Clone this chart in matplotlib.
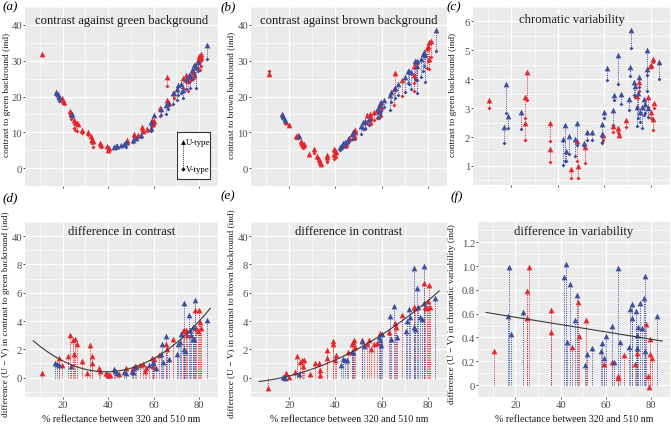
import numpy as np
import matplotlib
matplotlib.use("Agg")
import matplotlib.pyplot as plt

plt.rcParams['font.family'] = ['Liberation Serif', 'DejaVu Serif']

RED = '#e3272b'
BLUE = '#3d4e9e'
BG = '#ebebeb'

# (a) contrast against green background: U-type (triangle), V-type (point)
a_red_x = [10.8, 19.6, 20.6, 23.0, 23.8, 25.0, 25.5, 26.2, 26.8, 28.5, 31.0, 32.3, 33.0, 33.5, 36.5, 36.8,
           39.5, 40.2, 40.0, 48.5, 48.2, 51.2, 53.0, 55.0, 55.5, 57.0, 59.2, 59.5, 60.0, 63.0, 65.8, 66.0,
           67.0, 69.0, 73.2, 74.5, 75.0, 76.5, 77.5, 78.2, 79.5, 80.2, 80.8, 81.0, 80.5]
a_red_u = [32.0, 19.5, 18.6, 16.0, 15.5, 13.5, 13.0, 12.6, 12.4, 10.6, 10.0, 9.0, 8.0, 7.5, 7.0, 6.5,
           6.2, 5.5, 5.0, 7.8, 7.4, 9.5, 9.3, 11.5, 10.5, 11.0, 13.3, 12.4, 13.2, 16.8, 25.5, 19.0,
           18.2, 21.0, 25.3, 26.0, 24.6, 25.8, 27.2, 28.8, 30.2, 31.2, 31.8, 31.0, 30.5]
a_red_v = [31.5, 18.6, 17.9, 14.5, 13.8, 11.2, 10.6, 10.3, 11.9, 9.8, 9.3, 7.2, 7.0, 5.9, 6.4, 6.0,
           5.6, 5.0, 4.7, 7.2, 6.9, 8.6, 8.8, 10.5, 10.2, 10.4, 12.2, 11.8, 12.0, 14.5, 23.0, 17.5,
           17.6, 19.5, 22.5, 24.0, 21.5, 24.5, 25.0, 25.5, 28.0, 29.5, 30.2, 28.5, 27.5]
a_blue_x = [17.0, 17.8, 18.5, 24.2, 42.5, 43.5, 44.0, 45.5, 47.0, 48.0, 51.0, 52.5, 54.5, 59.0, 58.8, 60.0,
            63.5, 65.5, 66.5, 68.5, 70.5, 71.0, 72.0, 73.0, 74.5, 75.5, 76.0, 77.0, 78.0, 78.5, 79.5, 83.5]
a_blue_u = [21.2, 20.6, 20.0, 15.2, 6.0, 6.2, 6.3, 6.5, 6.8, 7.2, 7.8, 8.5, 9.2, 11.2, 12.8, 14.8,
            16.5, 17.5, 18.2, 21.0, 22.0, 23.2, 23.5, 21.8, 25.0, 26.0, 25.8, 27.5, 28.8, 28.2, 29.5, 34.5]
a_blue_v = [20.3, 19.6, 18.8, 14.4, 5.8, 5.7, 6.0, 6.2, 6.4, 6.0, 7.2, 8.0, 8.6, 10.5, 12.3, 13.0,
            14.8, 15.0, 16.5, 18.0, 19.0, 20.5, 21.0, 19.5, 22.0, 24.0, 22.5, 24.8, 26.0, 22.5, 27.0, 30.5]

# (b) contrast against brown background
b_red_x = [11.0, 18.4, 20.0, 23.0, 23.7, 24.9, 25.5, 25.9, 26.5, 28.4, 30.6, 32.1, 33.0, 33.3, 33.6, 36.5,
           36.5, 39.2, 39.8, 40.4, 39.5, 44.8, 46.0, 48.0, 48.6, 48.3, 53.0, 53.9, 55.0, 55.4, 56.9, 57.9,
           59.4, 59.8, 66.0, 65.4, 69.0, 74.1, 74.9, 74.1, 79.6, 80.3, 80.8, 81.5, 80.5]
b_red_u = [26.3, 13.0, 12.0, 9.0, 9.3, 7.5, 7.0, 6.5, 6.8, 3.8, 5.3, 3.5, 2.5, 1.8, 1.2, 3.6,
           3.2, 5.3, 5.0, 4.5, 4.0, 6.8, 8.5, 10.3, 10.6, 10.0, 13.0, 14.8, 15.2, 14.0, 15.8, 16.3,
           18.2, 17.0, 26.5, 22.2, 24.5, 28.5, 29.5, 26.0, 33.5, 34.0, 35.2, 35.5, 30.5]
b_red_v = [27.0, 12.7, 12.0, 8.3, 8.5, 6.8, 6.2, 5.5, 5.8, 3.6, 4.2, 2.8, 1.8, 1.2, 1.0, 2.0,
           1.6, 3.0, 3.8, 3.0, 2.5, 6.0, 7.5, 8.5, 8.8, 8.2, 11.0, 12.5, 13.0, 12.2, 13.5, 14.0,
           15.5, 14.5, 22.0, 17.5, 20.2, 23.8, 24.5, 21.5, 28.0, 29.8, 30.0, 31.0, 27.8]
b_blue_x = [16.8, 17.3, 18.1, 24.0, 42.0, 42.7, 43.3, 44.2, 45.4, 47.1, 47.7, 51.0, 52.0, 52.7, 54.5, 58.6,
            59.4, 59.8, 60.9, 59.0, 63.8, 64.2, 66.0, 67.2, 70.1, 71.3, 71.9, 72.7, 74.6, 75.2, 75.6, 77.1,
            77.8, 78.6, 79.0, 83.7]
b_blue_u = [15.0, 14.5, 13.5, 9.0, 5.8, 6.5, 7.0, 7.2, 8.0, 9.5, 10.0, 11.8, 12.8, 13.2, 13.8, 16.8,
            17.5, 18.5, 19.0, 16.0, 20.5, 21.2, 22.5, 23.5, 25.5, 27.2, 27.0, 26.8, 29.8, 30.0, 28.5, 30.5,
            32.0, 32.5, 31.5, 38.5]
b_blue_v = [14.2, 13.8, 12.8, 8.6, 5.0, 5.6, 6.0, 6.3, 7.0, 8.0, 8.2, 9.5, 11.0, 11.2, 12.0, 14.2,
            15.0, 16.0, 17.0, 14.0, 16.2, 18.5, 19.5, 20.5, 21.3, 23.8, 23.5, 22.0, 25.0, 24.5, 21.0, 25.5,
            27.0, 28.5, 24.0, 32.8]

# (c) chromatic variability
c_red_x = [10.5, 25.7, 25.8, 26.6, 36.7, 36.7, 45.8, 48.2, 48.5, 51.9, 59.6, 63.7, 66.1, 66.4, 69.3,
           74.1, 74.9, 78.8, 79.7, 80.3, 81.0, 80.4, 81.0, 81.4]
c_red_u = [3.27, 3.39, 2.48, 4.24, 2.48, 1.57, 0.89, 1.85, 1.00, 1.66, 2.08, 2.39, 2.31, 2.08, 2.59,
           3.41, 3.90, 3.39, 4.47, 4.50, 4.69, 2.88, 2.61, 3.19]
c_red_v = [2.99, 2.65, 1.91, 3.27, 1.85, 1.15, 0.58, 1.17, 0.58, 1.11, 1.91, 2.19, 2.19, 2.10, 2.36,
           3.05, 3.61, 3.05, 4.41, 4.45, 4.58, 2.65, 2.25, 3.02]
c_blue_x = [16.9, 17.8, 18.4, 23.9, 42.4, 43.1, 43.7, 45.0, 47.2, 48.2, 51.3, 52.8, 54.8, 59.2, 59.2, 60.0,
            61.1, 64.0, 64.3, 66.1, 67.3, 71.2, 70.9, 71.7, 72.7, 73.1, 74.1, 74.4, 75.2, 75.3, 76.3, 77.1,
            77.4, 78.5, 78.5, 78.8, 83.6]
c_blue_u = [2.36, 3.84, 2.73, 2.88, 1.93, 2.42, 1.51, 2.02, 1.93, 2.48, 1.80, 2.16, 2.19, 2.45, 2.11, 2.88,
            4.39, 2.93, 3.44, 4.83, 3.50, 4.43, 3.30, 5.72, 3.90, 3.75, 3.05, 3.52, 4.09, 2.88, 3.05, 3.33,
            3.16, 5.00, 4.35, 2.99, 4.58]
c_blue_v = [1.80, 2.82, 2.31, 2.27, 1.03, 1.17, 1.17, 1.40, 1.34, 1.74, 1.68, 1.91, 1.91, 1.80, 1.82, 2.65,
            3.98, 2.42, 3.27, 3.82, 3.16, 4.10, 2.93, 5.09, 3.44, 3.39, 2.39, 2.65, 3.73, 2.53, 2.31, 2.76,
            2.82, 4.13, 3.61, 2.70, 4.01]

# (d) difference (U - V) in contrast to green background
d_red_x = [10.7, 18.5, 19.8, 22.5, 23.0, 24.7, 25.4, 25.1, 26.1, 28.3, 30.5, 32.0, 32.7, 33.0, 36.1, 36.4,
           39.0, 39.6, 40.0, 40.5, 40.8, 44.9, 48.1, 51.1, 51.8, 54.0, 55.2, 56.2, 56.9, 59.2, 59.9, 60.3,
           62.5, 65.5, 65.8, 68.4, 73.1, 73.5, 74.1, 74.6, 78.2, 78.9, 79.7, 80.0, 80.4, 80.7]
d_red_d = [0.30, 1.40, 0.92, 1.50, 3.00, 2.65, 2.75, 1.70, 2.35, 1.20, 0.35, 2.30, 1.00, 1.55, 0.65, 0.45,
           0.30, 0.25, 0.22, 0.20, 0.18, 0.25, 0.70, 0.70, 0.80, 0.90, 0.95, 0.45, 0.70, 1.40, 0.80, 1.30,
           1.60, 2.35, 2.00, 2.70, 3.30, 3.35, 3.40, 3.00, 4.75, 3.50, 3.30, 4.80, 3.90, 3.50]
d_blue_x = [16.6, 17.6, 18.5, 23.6, 42.6, 43.0, 43.7, 47.0, 47.9, 50.4, 51.1, 52.5, 57.9, 59.6, 59.9, 60.9,
            63.3, 63.8, 64.3, 65.3, 66.8, 70.2, 70.7, 71.6, 71.9, 73.5, 73.5, 73.8, 75.6, 76.0, 76.3, 77.2,
            77.5, 77.8, 78.2, 83.5]
d_blue_d = [1.05, 0.94, 0.92, 0.85, 0.60, 0.50, 0.30, 0.40, 0.30, 0.50, 0.40, 0.75, 0.90, 1.00, 1.10, 0.70,
            1.70, 2.40, 1.10, 2.95, 1.30, 1.70, 2.40, 2.50, 3.10, 5.30, 2.00, 1.90, 4.40, 3.40, 3.00, 2.70,
            3.60, 2.70, 5.50, 4.05]
# points
d_fit_x = [7, 20, 39, 60, 85]
d_fit_y = [2.6, 1.2, 0.4, 1.35, 4.9]

# (e) difference (U - V) in contrast to brown background
e_red_x = [10.9, 18.5, 20.0, 22.6, 23.2, 24.8, 25.6, 25.9, 26.6, 28.8, 31.0, 32.7, 33.2, 33.5, 36.4, 36.4,
           39.0, 39.0, 39.8, 40.2, 45.3, 47.1, 47.8, 48.1, 48.5, 51.5, 53.7, 54.4, 55.4, 56.6, 58.1, 59.2,
           63.2, 65.7, 66.1, 69.0, 73.9, 74.6, 78.3, 79.0, 79.7, 80.3, 80.8, 81.2]
e_red_d = [-0.74, 0.35, 0.07, 0.42, 1.50, 1.10, 1.28, 0.84, 1.28, 0.26, 1.00, 1.05, 0.53, 0.19, 1.98, 1.42,
           2.58, 2.35, 1.28, 1.58, 1.81, 2.40, 2.50, 2.63, 2.16, 2.63, 2.40, 2.63, 2.05, 2.40, 2.44, 3.14,
           3.21, 3.84, 3.60, 4.44, 5.00, 4.95, 6.70, 5.00, 4.90, 5.42, 6.53, 5.00]
e_blue_x = [17.1, 18.1, 24.0, 42.3, 43.1, 44.2, 44.9, 47.1, 47.8, 51.5, 52.5, 58.8, 59.2, 59.8, 60.3, 63.6,
            63.9, 65.4, 66.9, 70.5, 71.2, 71.9, 72.3, 73.9, 74.2, 74.6, 75.6, 75.9, 76.8, 77.5, 78.3, 78.6, 83.0]
e_blue_d = [0.07, 0.00, 0.23, 0.88, 1.35, 1.28, 1.28, 1.81, 1.81, 2.56, 2.20, 2.86, 2.63, 2.28, 3.09, 4.37,
            2.74, 5.07, 2.90, 3.33, 4.02, 4.84, 4.30, 7.74, 3.56, 3.44, 6.30, 5.00, 4.30, 4.14, 7.86, 5.30, 5.65]
e_fit_x = [7, 40, 60, 80, 85]
e_fit_y = [-0.28, 1.28, 3.0, 5.4, 6.15]

# (f) difference (U - V) in chromatic variability
f_red_x = [10.6, 25.3, 25.3, 26.0, 35.9, 35.9, 45.0, 47.6, 47.9, 51.2, 59.0, 62.6, 65.3, 65.4, 68.2,
           72.9, 73.8, 77.8, 78.5, 79.0, 79.7, 79.7, 80.3]
f_red_d = [0.29, 0.79, 0.56, 0.99, 0.63, 0.45, 0.32, 0.70, 0.41, 0.55, 0.18, 0.19, 0.08, 0.06, 0.25,
           0.18, 0.27, 0.51, 0.075, -0.02, 0.39, 0.26, 0.23]
f_blue_x = [16.5, 17.2, 17.9, 23.2, 41.5, 42.4, 42.9, 44.3, 46.5, 47.4, 50.6, 51.8, 53.8, 57.9, 58.2, 59.1,
            60.1, 62.8, 63.4, 65.3, 66.3, 70.4, 70.7, 71.5, 71.6, 73.2, 73.7, 73.7, 74.1, 74.9, 76.0, 77.1,
            77.4, 77.5, 82.6]
f_blue_d = [0.58, 0.99, 0.43, 0.61, 0.91, 1.02, 0.36, 0.85, 0.55, 0.76, 0.17, 0.26, 0.31, 0.29, 0.35, 0.23,
            0.41, 0.50, 0.19, 0.98, 0.36, 0.32, 0.64, 0.68, 0.56, 0.62, 0.42, 0.31, 0.49, 0.69, 0.48, 0.73,
            0.29, 0.92, 0.58]
f_fit_x = [7, 85]
f_fit_y = [0.61, 0.37]

W, H = 671, 427
XLIM = (3.4, 88.4)
XTICKS = [20, 40, 60, 80]
DOT = (0, (1, 1.3))


def panel(fig, l, t, r, b):
    return fig.add_axes([l / W, 1 - b / H, (r - l) / W, (b - t) / H])


def style(ax, ylim, yticks, yticklabels, xlabels):
    ax.set_facecolor(BG)
    for s in ax.spines.values():
        s.set_visible(False)
    ax.set_xlim(*XLIM)
    ax.set_ylim(*ylim)
    ax.set_xticks(XTICKS)
    ax.set_xticks([10, 30, 50, 70], minor=True)
    ax.set_yticks(yticks)
    ax.set_yticklabels(yticklabels)
    step = yticks[1] - yticks[0]
    mids = [yticks[0] - step / 2] + [t + step / 2 for t in yticks]
    ax.set_yticks(mids, minor=True)
    if not xlabels:
        ax.set_xticklabels([])
    ax.grid(True, which='major', color='white', linewidth=0.9)
    ax.grid(True, which='minor', color='white', linewidth=0.45)
    ax.set_axisbelow(True)
    ax.tick_params(which='major', length=1.6, width=0.6, color='#333333', labelsize=7.7,
                   labelcolor='#4d4d4d', pad=0.6)
    ax.tick_params(which='minor', length=0)


def pairs(ax, x, u, v, col):
    ax.vlines(x, v, u, colors=col, linestyles=DOT, linewidth=0.7, zorder=2)
    ax.scatter(x, v, marker='D', s=4, color=col, linewidths=0, zorder=3)
    ax.scatter(x, u, marker='^', s=17, color=col, linewidths=0, zorder=4)


def diffs(ax, x, d, col):
    ax.vlines(x, 0, d, colors=col, linestyles=DOT, linewidth=0.7, zorder=2)
    ax.scatter(x, d, marker='^', s=17, color=col, linewidths=0, zorder=4)


def fit(ax, xs, ys, deg):
    coef = np.polyfit(xs, ys, deg)
    xx = np.linspace(xs[0], xs[-1], 100)
    ax.plot(xx, np.polyval(coef, xx), color='#3a3a3a', linewidth=0.8, zorder=5)


fig = plt.figure(figsize=(W / 100, H / 100), dpi=100)

ax_a = panel(fig, 25, 8, 218, 187)
ax_b = panel(fig, 251, 8, 447, 187)
ax_c = panel(fig, 473, 8, 670, 186)
ax_d = panel(fig, 25, 223, 218, 398)
ax_e = panel(fig, 251, 223, 447, 398)
ax_f = panel(fig, 478, 223, 670, 398)

style(ax_a, (-2.3, 43), [0, 10, 20, 30, 40], ['0', '10', '20', '30', '40'], False)
style(ax_b, (-2.3, 43), [0, 10, 20, 30, 40], ['0', '10', '20', '30', '40'], False)
style(ax_c, (0.34, 6.41), [1, 2, 3, 4, 5, 6], ['1', '2', '3', '4', '5', '6'], False)
diff_ticks = [0, 2, 4, 6, 8, 10]
diff_labels = ['0', '2', '4', '6', '8', '40']
style(ax_d, (-1.37, 10.6), diff_ticks, diff_labels, True)
style(ax_e, (-1.37, 10.6), diff_ticks, diff_labels, True)
style(ax_f, (-0.09, 1.37), [0, 0.2, 0.4, 0.6, 0.8, 1.0, 1.2],
      ['0', '0.2', '0.4', '0.6', '0.8', '1.0', '1.2'], True)

pairs(ax_a, a_red_x, a_red_u, a_red_v, RED)
pairs(ax_a, a_blue_x, a_blue_u, a_blue_v, BLUE)
pairs(ax_b, b_red_x, b_red_u, b_red_v, RED)
pairs(ax_b, b_blue_x, b_blue_u, b_blue_v, BLUE)
pairs(ax_c, c_red_x, c_red_u, c_red_v, RED)
pairs(ax_c, c_blue_x, c_blue_u, c_blue_v, BLUE)

diffs(ax_d, d_red_x, d_red_d, RED)
diffs(ax_d, d_blue_x, d_blue_d, BLUE)
diffs(ax_e, e_red_x, e_red_d, RED)
diffs(ax_e, e_blue_x, e_blue_d, BLUE)
diffs(ax_f, f_red_x, f_red_d, RED)
diffs(ax_f, f_blue_x, f_blue_d, BLUE)

fit(ax_d, d_fit_x, d_fit_y, 2)
fit(ax_e, e_fit_x, e_fit_y, 2)
fit(ax_f, f_fit_x, f_fit_y, 1)

titles = [(ax_a, 'contrast against green background', 0.93), (ax_b, 'contrast against brown background', 0.93),
          (ax_c, 'chromatic variability', 0.93), (ax_d, 'difference in contrast', 0.947),
          (ax_e, 'difference in contrast', 0.947), (ax_f, 'difference in variability', 0.947)]
for ax, t, ty in titles:
    ax.text(0.5, ty, t, transform=ax.transAxes, ha='center', va='center', fontsize=9.1, color='#1a1a1a')

# legend box in (a)
leg = fig.add_axes([177 / W, 1 - 180 / H, 33 / W, 47 / H])
leg.set_xlim(0, 1)
leg.set_ylim(0, 1)
leg.set_xticks([])
leg.set_yticks([])
leg.set_facecolor('white')
for s in leg.spines.values():
    s.set_color('#333333')
    s.set_linewidth(0.8)
leg.plot([0.17, 0.17], [0.22, 0.78], color='black', linestyle=DOT, linewidth=0.6)
leg.scatter([0.17], [0.78], marker='^', s=12, color='black', linewidths=0)
leg.scatter([0.17], [0.22], marker='D', s=5, color='black', linewidths=0)
leg.text(0.28, 0.78, 'U-type', va='center', fontsize=6.3)
leg.text(0.28, 0.22, 'V-type', va='center', fontsize=6.3)

# panel letters
for lab, px, py in [('(a)', 3, 7), ('(b)', 221, 7), ('(c)', 447, 7),
                    ('(d)', 3, 198), ('(e)', 221, 196), ('(f)', 451, 197)]:
    fig.text(px / W, 1 - py / H, lab, fontsize=9.5, style='italic', va='center', ha='left')

# axis labels
ylabs = [(7.5, 95, 'contrast to green backround (ind)'), (231, 95, 'contrast to brown backround (ind)'),
         (453.5, 95, 'contrast to green backround (ind)'),
         (6.5, 314, 'difference (U \u2212 V) in contrast to green backround (ind)'),
         (231, 314, 'difference (U \u2212 V) in contrast to brown backround (ind)'),
         (451.5, 314, 'difference (U \u2212 V) in chromatic variability (ind)')]
for px, py, t in ylabs:
    fig.text(px / W, 1 - py / H, t, rotation=90, ha='center', va='center', fontsize=6.7, color='#1a1a1a')

for cx in [121.5, 349, 574]:
    fig.text(cx / W, 1 - 420 / H, '% reflectance between 320 and 510 nm', ha='center', va='center',
             fontsize=7.2, color='#1a1a1a')

fig.savefig('out.png', dpi=100)
